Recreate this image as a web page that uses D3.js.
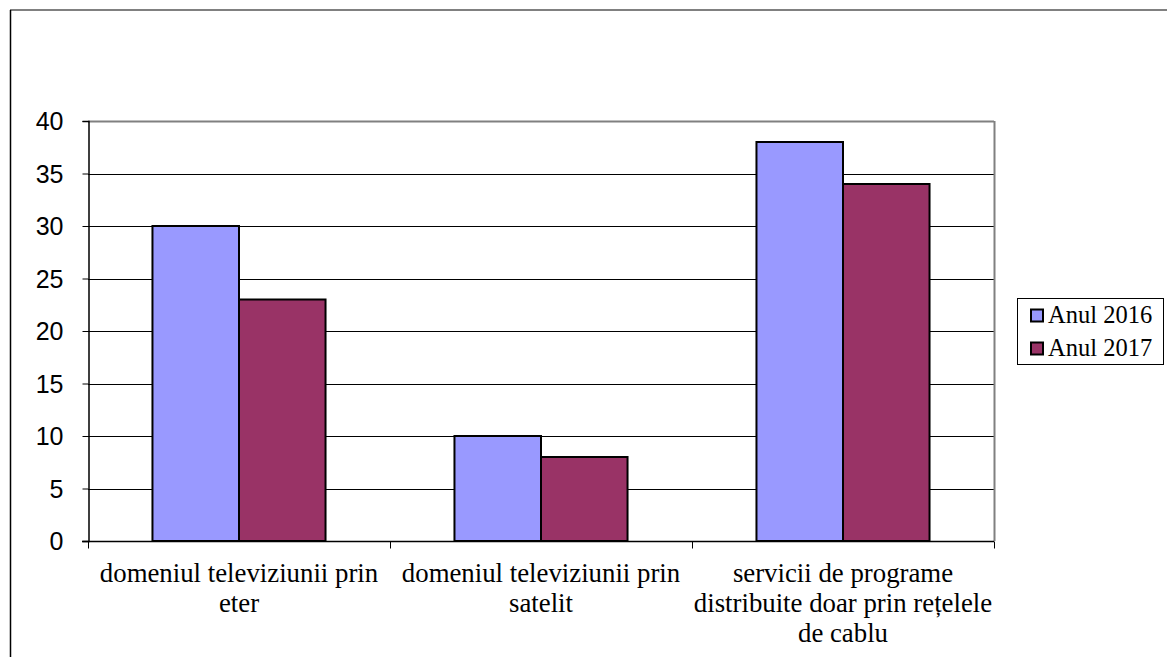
<!DOCTYPE html>
<html><head><meta charset="utf-8">
<script src="https://cdn.jsdelivr.net/npm/d3@7"></script>
<style>body{margin:0;background:#fff}svg{display:block}
.serif{font-family:"Liberation Serif","Times New Roman",serif;font-size:26.8px;fill:#000}
.leg{font-family:"Liberation Serif","Times New Roman",serif;font-size:24.5px;fill:#000}
.sans{font-family:"Liberation Sans",Arial,sans-serif;font-size:25px;fill:#000}
</style>
</head><body>
<script>
const categories = [
  ["domeniul televiziunii prin", "eter"],
  ["domeniul televiziunii prin", "satelit"],
  ["servicii de programe", "distribuite doar prin rețelele", "de cablu"]
];
const seriesNames = ["Anul 2016", "Anul 2017"];
const values2016 = [30, 10, 38];
const values2017 = [23, 8, 34];
const yTicks = [0, 5, 10, 15, 20, 25, 30, 35, 40];
const colors = ["#9999FF", "#993366"];

const W = 1167, H = 657;
const svg = d3.select("body").append("svg").attr("width", W).attr("height", H);

// outer border (top and left)
svg.append("line").attr("x1", 10).attr("x2", W).attr("y1", 10).attr("y2", 10).attr("stroke", "#808080").attr("stroke-width", 2);
svg.append("line").attr("x1", 10.5).attr("x2", 10.5).attr("y1", 10).attr("y2", H).attr("stroke", "#000").attr("stroke-width", 1.5);

const L = 88, R = 994, T = 121, B = 541;
const y = d3.scaleLinear().domain([0, 40]).range([B, T]);
const x0 = d3.scaleBand().domain(d3.range(categories.length)).range([L, R]).paddingInner(0).paddingOuter(0);
const x1 = d3.scaleBand().domain(d3.range(seriesNames.length)).range([0, x0.bandwidth()]).paddingInner(0).paddingOuter(0.745);

// gridlines
svg.append("g").selectAll("line").data(yTicks.filter(d => d > 0)).join("line")
  .attr("x1", L).attr("x2", R).attr("y1", d => Math.round(y(d)) + 0.5).attr("y2", d => Math.round(y(d)) + 0.5)
  .attr("stroke", d => d === 40 ? "#808080" : "#000").attr("stroke-width", d => d === 40 ? 2 : 1);
// right plot border
svg.append("line").attr("x1", R + 0.5).attr("x2", R + 0.5).attr("y1", T).attr("y2", B).attr("stroke", "#808080").attr("stroke-width", 2);

// bars
const series = [values2016, values2017];
const g = svg.append("g");
categories.forEach((c, i) => {
  series.forEach((vals, s) => {
    g.append("rect")
      .attr("x", x0(i) + x1(s))
      .attr("y", y(vals[i]))
      .attr("width", x1.bandwidth())
      .attr("height", y(0) - y(vals[i]))
      .attr("fill", colors[s]).attr("stroke", "#000").attr("stroke-width", 2);
  });
});

// y axis
const yAxis = d3.axisLeft(y).tickValues(yTicks).tickSize(6).tickPadding(19).tickFormat(d3.format("d"));
const ya = svg.append("g").attr("transform", `translate(${L + 0.5},0)`).call(yAxis)
  .attr("font-size", null).attr("font-family", null);
ya.select(".domain").attr("stroke", "#000").attr("stroke-width", 1.5);
ya.selectAll(".tick line").attr("stroke", "#000");
ya.selectAll("text").attr("class", "sans").attr("fill", null).attr("dy", "0.35em");

// x axis
const xb = svg.append("g").attr("transform", `translate(0,${B + 0.5})`);
xb.append("line").attr("x1", L - 6).attr("x2", R).attr("y1", 0).attr("y2", 0).attr("stroke", "#000").attr("stroke-width", 1.5);
const bounds = d3.range(categories.length + 1).map(i => i < categories.length ? x0(i) : R);
xb.selectAll("line.tk").data(bounds).join("line").attr("class", "tk")
  .attr("x1", d => Math.round(d) + 0.5).attr("x2", d => Math.round(d) + 0.5).attr("y1", 0).attr("y2", 7).attr("stroke", "#000");
categories.forEach((lines, i) => {
  const t = svg.append("text").attr("text-anchor", "middle").attr("class", "serif");
  lines.forEach((ln, k) => {
    t.append("tspan").attr("x", x0(i) + x0.bandwidth() / 2).attr("y", 582 + k * 30).text(ln);
  });
});

// legend
const lg = svg.append("g");
lg.append("rect").attr("x", 1017.5).attr("y", 298.5).attr("width", 146).attr("height", 66).attr("fill", "#fff").attr("stroke", "#000");
seriesNames.forEach((n, i) => {
  const base = 322.5 + i * 33;
  lg.append("rect").attr("x", 1031).attr("y", base - 13).attr("width", 12).attr("height", 12).attr("fill", colors[i]).attr("stroke", "#000").attr("stroke-width", 2);
  lg.append("text").attr("class", "leg").attr("x", 1048).attr("y", base).text(n);
});
</script>
</body></html>
